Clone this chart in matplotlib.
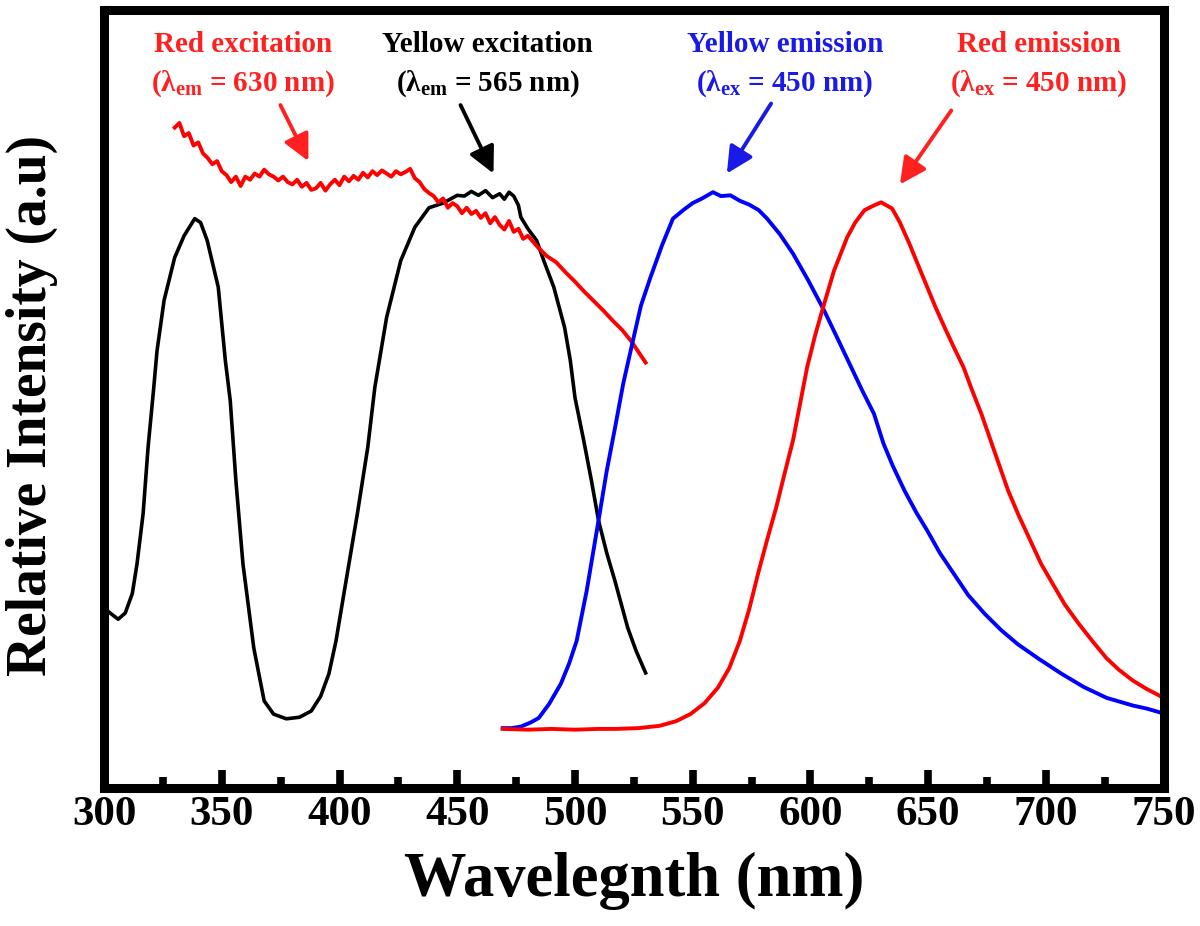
import matplotlib
matplotlib.use('Agg')
import matplotlib.pyplot as plt

plt.rcParams['font.family'] = ['Liberation Serif', 'DejaVu Serif']
plt.rcParams['font.weight'] = 'bold'
plt.rcParams['mathtext.fontset'] = 'custom'
plt.rcParams['mathtext.rm'] = 'Liberation Serif:bold'
plt.rcParams['mathtext.bf'] = 'Liberation Serif:bold'
plt.rcParams['mathtext.it'] = 'Liberation Serif:bold'

# yellow excitation (black), lambda_em = 565 nm
yex_x = [301.3, 306, 309, 312, 314, 316.6, 318.7, 321, 322.5, 325.5, 330, 334,
         338.5, 341, 343.8, 348.5, 351.5, 353.6, 356, 359, 363.6, 368, 372,
         377.4, 383, 388, 392, 395.5, 398.5, 401.6, 404.6, 407.6, 412, 415,
         420, 426, 432, 438, 444, 450, 453, 456, 459, 462, 465, 468, 470, 472,
         474, 476, 477, 480, 483.7, 487, 491, 495.6, 498, 500, 503.7, 507, 510,
         513.5, 517, 522.4, 526, 530]
yex_y = [22.8, 21.7, 22.5, 25.0, 28.8, 35.3, 43.8, 51.1, 56.2, 62.7, 68.2, 71.0,
         73.2, 72.7, 70.4, 64.4, 55.0, 49.8, 39.5, 28.8, 18.0, 11.2, 9.5,
         8.9, 9.1, 9.9, 11.8, 14.7, 18.9, 24.5, 29.9, 35.3, 43.8, 51.5,
         60.5, 67.8, 72.1, 74.6, 75.2, 76.2, 76.1, 76.7, 76.2, 76.8, 75.9, 76.4, 75.7, 76.6,
         76.1, 74.9, 73.4, 71.9, 70.4, 67.6, 64.4, 59.2, 55.0, 50.2, 44.7, 39.5, 34.4,
         30.2, 26.6, 20.6, 17.6, 14.8]

# red excitation, lambda_em = 630 nm
rex_x = [330, 332, 334, 336, 338, 340, 342, 344, 346, 348, 350, 352, 354, 356,
         358, 360, 362, 364, 366, 368, 370, 372, 374, 376, 378, 380, 382, 384,
         386, 388, 390, 392, 394, 396, 398, 400, 402, 404, 406, 408, 410, 412,
         414, 416, 418, 420, 422, 424, 426, 428, 430, 432, 434, 436, 438, 440,
         442, 444, 446, 448, 450, 452, 454, 456, 458, 460, 462, 464, 466, 468,
         470, 472, 474, 476, 478, 480, 484, 488, 492, 496, 500, 504, 508, 512,
         516, 520, 524, 528, 530]
rex_y = [84.9, 85.5, 83.8, 84.2, 82.6, 83.0, 81.6, 81.0, 80.2, 80.6, 79.3, 78.8,
         77.9, 78.6, 77.4, 78.6, 78.2, 79.0, 78.6, 79.5, 78.9, 78.6, 78.1, 78.6,
         77.9, 77.6, 78.2, 77.3, 77.8, 76.9, 77.1, 77.8, 76.8, 77.6, 78.2, 77.5,
         78.6, 78.0, 78.7, 78.2, 79.1, 78.5, 79.3, 78.8, 79.4, 79.0, 78.6, 79.3,
         78.9, 79.2, 79.6, 78.4, 77.9, 77.0, 76.5, 76.1, 75.3, 75.8, 74.6, 75.2,
         74.8, 73.9, 74.6, 73.8, 74.2, 73.3, 73.9, 72.6, 73.4, 72.4, 71.8, 72.9,
         71.5, 71.9, 70.6, 71.0, 69.6, 68.4, 67.6, 66.3, 65.1, 63.8, 62.6, 61.4,
         60.1, 58.9, 57.4, 55.6, 54.7]

# yellow emission (blue), lambda_ex = 450 nm
yem_x = [469.3, 473, 477, 481, 484.6, 489, 494, 497.5, 500.7, 505, 510, 513.5,
         517, 520.5, 524.6, 528, 532, 537, 541.6, 546, 550, 554, 558.6, 562,
         566, 570, 574, 578, 581.6, 587, 592.6, 599, 605.8, 611.5, 617.3, 622,
         627, 631, 635, 640, 645, 649.6, 655, 661, 667, 674, 681, 688, 697,
         706.6, 716, 725.7, 737, 743, 748.7]
yem_y = [7.7, 7.7, 7.9, 8.4, 9.0, 10.8, 13.4, 16.0, 18.9, 25.4, 34.4, 40.8,
         46.3, 52.0, 57.5, 62.0, 65.6, 69.8, 73.2, 74.3, 75.2, 75.8, 76.6, 76.1,
         76.2, 75.5, 75.0, 74.3, 73.2, 71.2, 68.7, 65.3, 61.4, 57.8, 54.1, 51.1,
         48.1, 44.3, 41.4, 38.2, 35.4, 33.1, 30.2, 27.5, 24.8, 22.4, 20.3, 18.5, 16.6,
         14.7, 13.0, 11.6, 10.6, 10.2, 9.7]

# red emission, lambda_ex = 450 nm
rem_x = [469.3, 480, 490, 500, 510, 517, 527, 536, 543, 549, 555, 560.7, 565.5,
         570, 574, 577.7, 581.5, 585.4, 589, 592.6, 595.6, 598.6, 602, 605, 610,
         615.6, 619, 623, 627, 630, 634.7, 638, 642, 645.5, 649.6, 653, 657, 661,
         665, 668.7, 672.6, 678, 684, 688.5, 693.4, 698, 702.8, 708, 714, 720,
         725.7, 731, 737, 743, 748.7]
rem_y = [7.6, 7.5, 7.6, 7.5, 7.6, 7.6, 7.7, 8.0, 8.6, 9.5, 10.9, 12.9, 15.4,
         18.9, 23.0, 27.5, 31.8, 36.0, 40.4, 44.7, 49.4, 54.1, 58.2, 61.4, 66.5,
         70.8, 72.7, 74.3, 74.9, 75.3, 74.5, 72.7, 70.0, 67.4, 64.4, 61.9, 59.2, 56.6,
         54.1, 51.1, 48.1, 43.4, 38.2, 35.0, 31.8, 28.8, 26.3, 23.6, 21.1, 18.8,
         16.7, 15.2, 13.8, 12.7, 11.8]

labels = ['Red excitation', 'Yellow excitation', 'Yellow emission', 'Red emission']
sublabels = [r'($\lambda_{\mathrm{em}}$ = 630 nm)', r'($\lambda_{\mathrm{em}}$ = 565 nm)',
             r'($\lambda_{\mathrm{ex}}$ = 450 nm)', r'($\lambda_{\mathrm{ex}}$ = 450 nm)']
label_colors = ['#ff2020', 'black', '#1a1ae6', '#ff2020']
label_x = [359.1, 462.9, 589.2, 697.0]
arrow_from = [(374.9, 87.8), (451.4, 87.8), (583.3, 88.0), (659.8, 87.1)]
arrow_to = [(386.8, 80.6), (465.4, 79.0), (564.5, 79.0), (638.0, 77.6)]

fig = plt.figure(figsize=(12, 9.26), dpi=100)
ax = fig.add_axes([0.0867, 0.149, 0.883, 0.840])

ax.plot(yex_x, yex_y, color='black', lw=2.6)
ax.plot(rex_x, rex_y, color='red', lw=2.8)
ax.plot(yem_x, yem_y, color='blue', lw=2.8)
ax.plot(rem_x, rem_y, color='red', lw=2.8)

for lab, sub, c, lx, a0, a1 in zip(labels, sublabels, label_colors, label_x,
                                   arrow_from, arrow_to):
    ax.text(lx, 95.6, lab, color=c, fontsize=21, fontweight='bold',
            ha='center', va='center')
    ax.text(lx, 90.6, sub, color=c, fontsize=21, fontweight='bold',
            ha='center', va='center')
    ax.annotate('', xy=a1, xytext=a0,
                arrowprops=dict(arrowstyle='-|>', color=c, lw=2.8,
                                mutation_scale=40, shrinkA=0, shrinkB=0))

ax.set_xlim(300, 750)
ax.set_ylim(0, 100)
ax.set_xticks(range(300, 751, 50))
ax.set_xticks(range(325, 750, 50), minor=True)
ax.set_yticks([])
ax.tick_params(axis='x', which='major', direction='in', length=13, width=5.5,
               labelsize=31, pad=6)
ax.tick_params(axis='x', which='minor', direction='in', length=8, width=5.5)
for lbl in ax.get_xticklabels():
    lbl.set_fontweight('bold')
for s in ax.spines.values():
    s.set_linewidth(6.5)

ax.set_xlabel('Wavelegnth (nm)', fontsize=45, fontweight='bold')
ax.xaxis.set_label_coords(0.5, -0.082)
ax.set_ylabel('Relative Intensity (a.u)', fontsize=40, fontweight='bold')
ax.yaxis.set_label_coords(-0.043, 0.492)

fig.savefig('out.png', dpi=100)
